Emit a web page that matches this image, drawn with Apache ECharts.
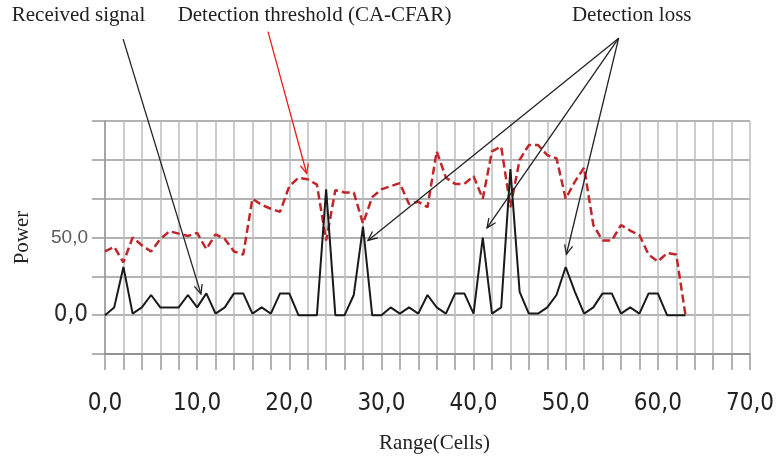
<!DOCTYPE html>
<html>
<head>
<meta charset="utf-8">
<script src="https://cdn.jsdelivr.net/npm/echarts@6/dist/echarts.min.js"></script>
<style>
html,body{margin:0;padding:0;background:#fff;}
#chart{width:777px;height:459px;}
</style>
</head>
<body>
<div id="chart"></div>
<script>
// ---- data ----
const cells = [0,1,2,3,4,5,6,7,8,9,10,11,12,13,14,15,16,17,18,19,20,21,22,23,24,25,26,27,28,29,30,31,32,33,34,35,36,37,38,39,40,41,42,43,44,45,46,47,48,49,50,51,52,53,54,55,56,57,58,59,60,61,62,63];
const receivedSignal = [0,5,31,1,5,13,5,5,5,13,5,14,1,5,14,14,1,5,1,14,14,0,0,0,81,0,0,13,57,0,0,5,1,5,1,13,5,1,14,14,1,50,1,5,94,15,1,1,5,13,31,15,1,5,14,14,1,5,1,14,14,0,0,0];
const threshold = [41,44,34,50,45,41,49,54,52.5,51,53,42.5,52,49,41,39,75,71,68.5,66.5,83,88.5,87.5,84,48,80.5,79,79,59,76,81,83,85,71.5,73,69.5,105.5,88.5,84.5,84.5,89.5,75,105.5,108.5,69.5,100,109.5,109.5,103,101,75,86,95,58,48,48,58,54.5,51.5,39,34.5,40,39,0];
const yLabelValues = [0, 50];
const xLabelValues = [0, 10, 20, 30, 40, 50, 60, 70];
// annotations: text and arrows (arrow start/tip in data coordinates)
const annotationTexts = ["Received signal", "Detection threshold (CA-CFAR)", "Detection loss"];
const arrowReceived = [[1.97, 177.7], [10.41, 13.7]];
const arrowThreshold = [[17.69, 182.5], [21.89, 91.2]];
const arrowsLoss = [
  [[55.75, 178.3], [28.54, 48.1]],
  [[55.75, 178.3], [41.46, 56.2]],
  [[55.75, 178.3], [50.08, 39.2]]
];

const fmt = v => v.toFixed(1).replace('.', ',');
const narrow = "'Liberation Sans Narrow','DejaVu Sans Condensed','Arial Narrow',sans-serif";
const serif = "'Liberation Serif','Times New Roman',serif";

const chart = echarts.init(document.getElementById('chart'), null, {renderer: 'canvas'});
chart.setOption({
  animation: false,
  backgroundColor: '#fff',
  grid: {left: 105, right: 22, top: 121, bottom: 102.5, containLabel: false},
  xAxis: {
    type: 'value', min: 0, max: 70, interval: 2,
    name: 'Range(Cells)', nameLocation: 'middle', nameGap: 79,
    nameTextStyle: {fontFamily: serif, fontSize: 21, color: '#222', padding: [0, 0, 0, 14]},
    axisLine: {show: true, onZero: false, lineStyle: {color: '#888', width: 1.5}},
    axisTick: {show: true, length: 16, lineStyle: {color: '#999', width: 1.5}},
    splitLine: {show: true, lineStyle: {color: '#bdbdbd', width: 1.5}},
    axisLabel: {
      margin: 38, fontFamily: narrow, fontSize: 24, color: '#222',
      formatter: v => xLabelValues.indexOf(v) >= 0 ? fmt(v) : ''
    }
  },
  yAxis: {
    type: 'value', min: -25, max: 125, interval: 25,
    name: 'Power', nameLocation: 'middle', nameGap: 72, nameRotate: 90,
    nameTextStyle: {fontFamily: serif, fontSize: 21, color: '#222'},
    axisLine: {show: true, lineStyle: {color: '#999', width: 1.5}},
    axisTick: {show: true, length: 13, lineStyle: {color: '#999', width: 1.5}},
    splitLine: {show: true, lineStyle: {color: '#9a9a9a', width: 1.5}},
    axisLabel: {
      margin: 17,
      formatter: v => {
        if (yLabelValues.indexOf(v) < 0) return '';
        return v === 0 ? '{a|' + fmt(v) + '}' : '{b|' + fmt(v) + '}';
      },
      rich: {
        a: {fontFamily: narrow, fontSize: 24, color: '#2a2a2a'},
        b: {fontFamily: "'Liberation Sans',sans-serif", fontSize: 19, color: '#5a5a5a'}
      }
    }
  },
  series: [
    {
      name: 'Detection threshold (CA-CFAR)', type: 'line', showSymbol: false, symbol: 'none',
      data: cells.map((c, i) => [c, threshold[i]]),
      lineStyle: {color: '#c0262b', width: 2.5, type: [8, 4]},
      z: 2
    },
    {
      name: 'Received signal', type: 'line', showSymbol: false, symbol: 'none',
      data: cells.map((c, i) => [c, receivedSignal[i]]),
      lineStyle: {color: '#1a1a1a', width: 2},
      z: 3
    }
  ]
});

function arrowGraphics(a, color) {
  const p0 = chart.convertToPixel({gridIndex: 0}, a[0]);
  const p1 = chart.convertToPixel({gridIndex: 0}, a[1]);
  const ang = Math.atan2(p1[1] - p0[1], p1[0] - p0[0]);
  const L = 10, spread = 0.42;
  const h1 = [p1[0] - L * Math.cos(ang - spread), p1[1] - L * Math.sin(ang - spread)];
  const h2 = [p1[0] - L * Math.cos(ang + spread), p1[1] - L * Math.sin(ang + spread)];
  return [
    {type: 'line', shape: {x1: p0[0], y1: p0[1], x2: p1[0], y2: p1[1]}, style: {stroke: color, lineWidth: 1.3}, z: 10},
    {type: 'polyline', shape: {points: [h1, p1, h2]}, style: {stroke: color, lineWidth: 1.3, fill: null}, z: 10}
  ];
}

const textStyle = {fontFamily: serif, fontSize: 21, fill: '#222', align: 'center', verticalAlign: 'middle'};
let g = [];
g.push({type: 'text', x: 78.5, y: 15, style: Object.assign({text: annotationTexts[0]}, textStyle), z: 10});
g.push({type: 'text', x: 314.5, y: 15, style: Object.assign({text: annotationTexts[1]}, textStyle), z: 10});
g.push({type: 'text', x: 631.7, y: 15, style: Object.assign({text: annotationTexts[2]}, textStyle), z: 10});
g = g.concat(arrowGraphics(arrowReceived, '#222'));
g = g.concat(arrowGraphics(arrowThreshold, '#ee1c1c'));
arrowsLoss.forEach(a => { g = g.concat(arrowGraphics(a, '#222')); });
chart.setOption({graphic: g});
</script>
</body>
</html>
